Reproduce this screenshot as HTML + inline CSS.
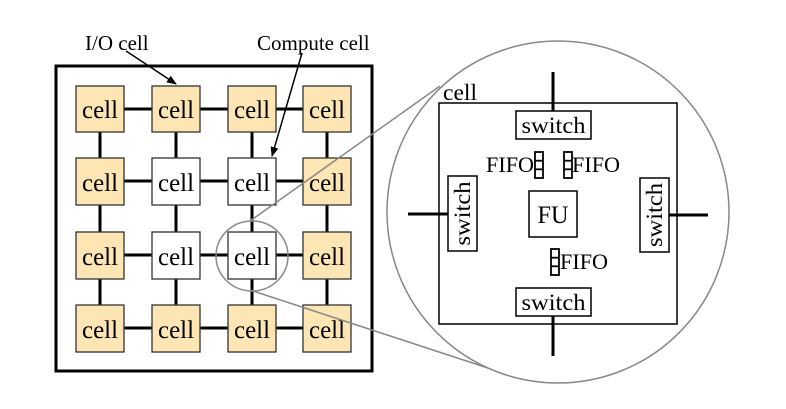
<!DOCTYPE html>
<html><head><meta charset="utf-8"><style>
html,body{margin:0;padding:0;background:#fff;}
svg{display:block;}
text{font-family:"Liberation Serif",serif;fill:#000;}
</style></head><body>
<svg width="786" height="409" viewBox="0 0 786 409" xmlns="http://www.w3.org/2000/svg">
<defs>
<marker id="ah" markerWidth="10" markerHeight="8" refX="9" refY="4" orient="auto" markerUnits="userSpaceOnUse">
<path d="M0,0 L10,4 L0,8 z" fill="#000"/>
</marker>
</defs>
<rect x="56" y="66" width="316" height="305" fill="none" stroke="#000" stroke-width="3"/>
<g stroke="#000" stroke-width="3">
<line x1="100" y1="109" x2="327" y2="109"/>
<line x1="100" y1="181" x2="327" y2="181"/>
<line x1="100" y1="255" x2="327" y2="255"/>
<line x1="100" y1="328" x2="327" y2="328"/>
<line x1="100" y1="109" x2="100" y2="328"/>
<line x1="176" y1="109" x2="176" y2="328"/>
<line x1="252" y1="109" x2="252" y2="328"/>
<line x1="327" y1="109" x2="327" y2="328"/>
</g>
<g stroke="#333" stroke-width="1.3">
<rect x="76" y="86" width="48" height="46" fill="#fde6b4"/>
<rect x="152" y="86" width="48" height="46" fill="#fde6b4"/>
<rect x="228" y="86" width="48" height="46" fill="#fde6b4"/>
<rect x="303" y="86" width="48" height="46" fill="#fde6b4"/>
<rect x="76" y="158" width="48" height="47" fill="#fde6b4"/>
<rect x="152" y="158" width="48" height="47" fill="#fff"/>
<rect x="228" y="158" width="48" height="47" fill="#fff"/>
<rect x="303" y="158" width="48" height="47" fill="#fde6b4"/>
<rect x="76" y="232" width="48" height="47" fill="#fde6b4"/>
<rect x="152" y="232" width="48" height="47" fill="#fff"/>
<rect x="228" y="232" width="48" height="47" fill="#fff"/>
<rect x="303" y="232" width="48" height="47" fill="#fde6b4"/>
<rect x="76" y="305" width="48" height="47" fill="#fde6b4"/>
<rect x="152" y="305" width="48" height="47" fill="#fde6b4"/>
<rect x="228" y="305" width="48" height="47" fill="#fde6b4"/>
<rect x="303" y="305" width="48" height="47" fill="#fde6b4"/>
</g>
<g font-size="25" text-anchor="middle">
<text x="100" y="118" textLength="36" lengthAdjust="spacingAndGlyphs">cell</text><text x="176" y="118" textLength="36" lengthAdjust="spacingAndGlyphs">cell</text><text x="252" y="118" textLength="36" lengthAdjust="spacingAndGlyphs">cell</text><text x="327" y="118" textLength="36" lengthAdjust="spacingAndGlyphs">cell</text>
<text x="100" y="191" textLength="36" lengthAdjust="spacingAndGlyphs">cell</text><text x="176" y="191" textLength="36" lengthAdjust="spacingAndGlyphs">cell</text><text x="252" y="191" textLength="36" lengthAdjust="spacingAndGlyphs">cell</text><text x="327" y="191" textLength="36" lengthAdjust="spacingAndGlyphs">cell</text>
<text x="100" y="265" textLength="36" lengthAdjust="spacingAndGlyphs">cell</text><text x="176" y="265" textLength="36" lengthAdjust="spacingAndGlyphs">cell</text><text x="252" y="265" textLength="36" lengthAdjust="spacingAndGlyphs">cell</text><text x="327" y="265" textLength="36" lengthAdjust="spacingAndGlyphs">cell</text>
<text x="100" y="338" textLength="36" lengthAdjust="spacingAndGlyphs">cell</text><text x="176" y="338" textLength="36" lengthAdjust="spacingAndGlyphs">cell</text><text x="252" y="338" textLength="36" lengthAdjust="spacingAndGlyphs">cell</text><text x="327" y="338" textLength="36" lengthAdjust="spacingAndGlyphs">cell</text>
</g>
<text x="85" y="50" font-size="21">I/O cell</text>
<text x="257" y="50" font-size="21">Compute cell</text>
<line x1="126" y1="51" x2="176" y2="84" stroke="#000" stroke-width="1.5" marker-end="url(#ah)"/>
<line x1="302" y1="53" x2="272" y2="156" stroke="#000" stroke-width="1.5" marker-end="url(#ah)"/>
<ellipse cx="252" cy="256" rx="36" ry="35" fill="none" stroke="#888" stroke-width="1.5"/>
<line x1="250" y1="221" x2="440" y2="86" stroke="#888" stroke-width="1.5"/>
<line x1="250" y1="290" x2="500" y2="372" stroke="#888" stroke-width="1.5"/>
<ellipse cx="558" cy="212" rx="171" ry="171" fill="#fff" stroke="#888" stroke-width="1.5"/>
<rect x="439" y="103" width="238" height="221" fill="none" stroke="#000" stroke-width="1.5"/>
<text x="443" y="100" font-size="23" textLength="34" lengthAdjust="spacingAndGlyphs">cell</text>
<g stroke="#000" stroke-width="3">
<line x1="553" y1="72" x2="553" y2="111"/>
<line x1="553" y1="316" x2="553" y2="356"/>
<line x1="408" y1="214" x2="448" y2="214"/>
<line x1="669" y1="215" x2="708" y2="215"/>
</g>
<g fill="#fff" stroke="#000" stroke-width="1.5">
<rect x="516" y="111" width="75" height="28"/>
<rect x="516" y="288" width="75" height="28"/>
<rect x="448" y="176" width="29" height="75"/>
<rect x="640" y="178" width="29" height="74"/>
<rect x="529" y="191" width="48" height="46"/>
</g>
<g font-size="23" text-anchor="middle">
<text x="553.5" y="133" textLength="64" lengthAdjust="spacingAndGlyphs">switch</text>
<text x="553.5" y="310" textLength="64" lengthAdjust="spacingAndGlyphs">switch</text>
<text transform="translate(470,213.5) rotate(-90)" textLength="64" lengthAdjust="spacingAndGlyphs">switch</text>
<text transform="translate(662,215) rotate(-90)" textLength="64" lengthAdjust="spacingAndGlyphs">switch</text>
<text x="553" y="223" font-size="25" textLength="31" lengthAdjust="spacingAndGlyphs">FU</text>
</g>
<g fill="#fff" stroke="#000" stroke-width="1.8">
<rect x="535" y="152" width="8" height="26"/>
<line x1="535" y1="160.7" x2="543" y2="160.7"/><line x1="535" y1="169.3" x2="543" y2="169.3"/>
<rect x="564" y="152" width="8" height="26"/>
<line x1="564" y1="160.7" x2="572" y2="160.7"/><line x1="564" y1="169.3" x2="572" y2="169.3"/>
<rect x="551" y="249" width="8" height="26"/>
<line x1="551" y1="257.7" x2="559" y2="257.7"/><line x1="551" y1="266.3" x2="559" y2="266.3"/>
</g>
<g font-size="22">
<text x="486" y="172" textLength="48" lengthAdjust="spacingAndGlyphs">FIFO</text>
<text x="572" y="172" textLength="48" lengthAdjust="spacingAndGlyphs">FIFO</text>
<text x="560" y="269" textLength="48" lengthAdjust="spacingAndGlyphs">FIFO</text>
</g>
</svg>
</body></html>
